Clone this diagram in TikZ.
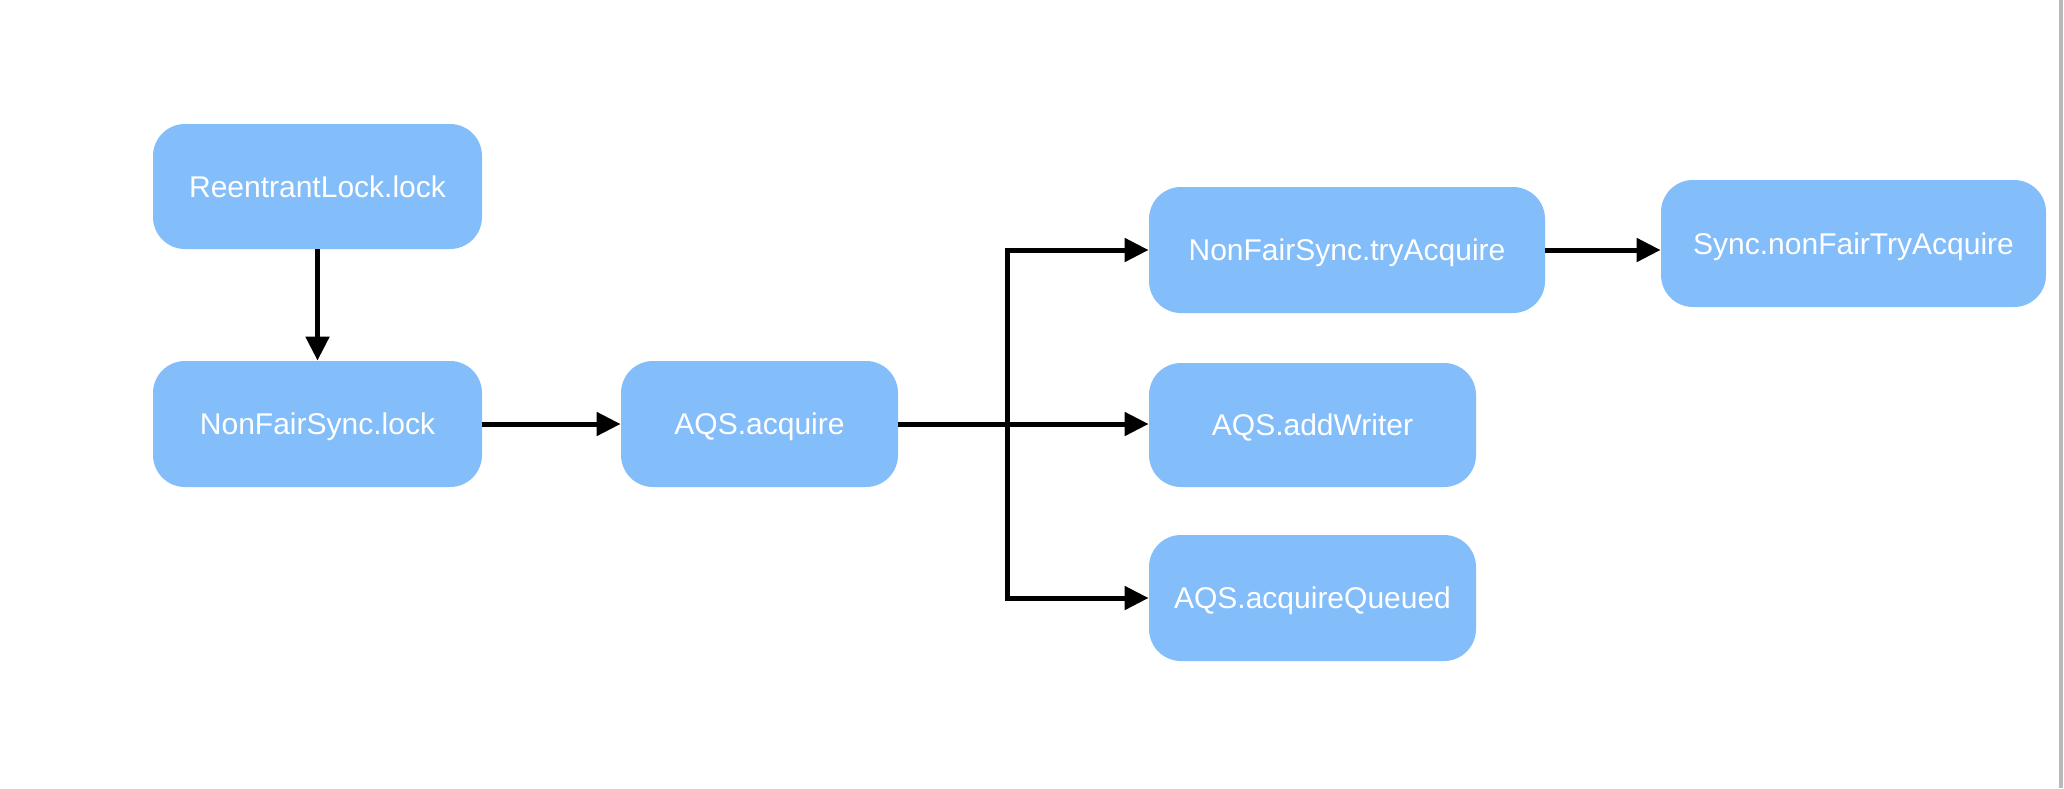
\documentclass[tikz,border=0pt]{standalone}
\usepackage{fontspec}
\setmainfont{Liberation Sans}
\usetikzlibrary{arrows.meta}
\definecolor{boxblue}{RGB}{131,190,250}
\definecolor{edgegray}{RGB}{185,185,185}
\begin{document}
\begin{tikzpicture}[x=0.5pt,y=-0.5pt,
  box/.style={fill=boxblue, draw=none, rounded corners=16pt, inner sep=0pt,
    text=white, font=\fontsize{15}{18}\selectfont, text height=10.7pt, text depth=0pt},
  conn/.style={line width=2.5pt, -{Triangle[length=12pt,width=11.5pt]}}]
\useasboundingbox (0,0) rectangle (2064,788);
\fill[white] (0,0) rectangle (2064,788);
\fill[edgegray] (2059,0) rectangle (2063,788);
\node[box, minimum width=164.5pt, minimum height=62.5pt] (rl) at (317.5,186.5) {ReentrantLock.lock};
\node[box, minimum width=164.5pt, minimum height=63pt] (nfl) at (317.5,424) {NonFairSync.lock};
\node[box, minimum width=138.5pt, minimum height=63pt] (acq) at (759.5,424) {AQS.acquire};
\node[box, minimum width=198pt, minimum height=63pt] (try) at (1347,250) {NonFairSync.tryAcquire};
\node[box, minimum width=163.5pt, minimum height=62pt] (add) at (1312.5,425) {AQS.addWriter};
\node[box, minimum width=163.5pt, minimum height=63pt] (que) at (1312.5,598) {AQS.acquireQueued};
\node[box, minimum width=192.5pt, minimum height=63.5pt] (sync) at (1853.5,243.5) {Sync.nonFairTryAcquire};
\coordinate (bus) at (1007,424);
\draw[conn] (rl) -- (nfl);
\draw[conn] (nfl) -- (acq);
\draw[conn] (acq.east) -- (bus) |- (try.west);
\draw[conn] (acq.east) -- (add.west |- acq.east);
\draw[conn] (acq.east) -- (bus) |- (que.west);
\draw[conn] (try.east) -- (sync.west |- try.east);
\end{tikzpicture}
\end{document}
